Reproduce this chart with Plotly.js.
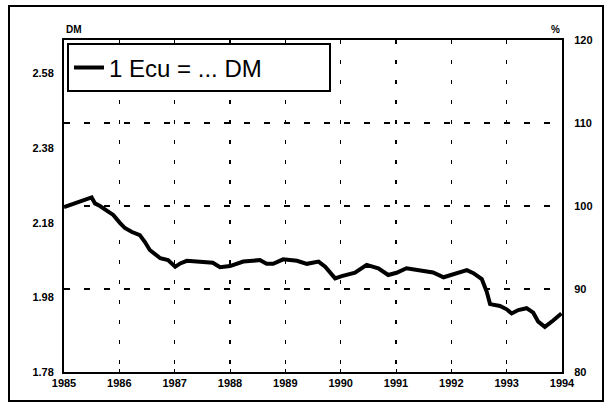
<!DOCTYPE html>
<html>
<head>
<meta charset="utf-8">
<script src="https://cdn.plot.ly/plotly-3.0.1.min.js"></script>
<style>
  html, body { margin: 0; padding: 0; background: #fff; }
  #wrap { position: relative; width: 607px; height: 407px; }
  #chart { position: absolute; left: 0; top: 0; width: 607px; height: 407px; }
  #frame { position: absolute; left: 8px; top: 5px; width: 592px; height: 393px;
           border: 2px solid #000; pointer-events: none; }
</style>
</head>
<body>
<div id="wrap">
  <div id="chart"></div>
  <div id="frame"></div>
</div>
<script>
// Years (decimal) and exchange rate: 1 ECU = ... DM
const years = [
  1985.00, 1985.20, 1985.34, 1985.50, 1985.56, 1985.65, 1985.80, 1985.89,
  1986.01, 1986.10, 1986.22, 1986.37, 1986.46, 1986.55, 1986.74, 1986.88,
  1987.01, 1987.10, 1987.22, 1987.46, 1987.69, 1987.82, 1988.00, 1988.24,
  1988.54, 1988.66, 1988.78, 1988.96, 1989.21, 1989.39, 1989.60, 1989.72,
  1989.90, 1990.02, 1990.26, 1990.47, 1990.68, 1990.86, 1991.01, 1991.19,
  1991.43, 1991.67, 1991.86, 1992.04, 1992.28, 1992.40, 1992.55, 1992.64,
  1992.70, 1992.88, 1993.00, 1993.09, 1993.21, 1993.36, 1993.48, 1993.57,
  1993.69, 1993.84, 1993.99
];
const ecuDM = [
  2.222, 2.233, 2.241, 2.248, 2.232, 2.225, 2.210, 2.201,
  2.180, 2.166, 2.156, 2.147, 2.129, 2.107, 2.085, 2.080,
  2.062, 2.071, 2.078, 2.076, 2.073, 2.061, 2.064, 2.076,
  2.080, 2.070, 2.070, 2.082, 2.078, 2.070, 2.076, 2.062,
  2.031, 2.037, 2.046, 2.067, 2.058, 2.040, 2.046, 2.058,
  2.052, 2.047, 2.034, 2.043, 2.053, 2.045, 2.029, 1.995,
  1.962, 1.957, 1.948, 1.937, 1.946, 1.951, 1.939, 1.915,
  1.901, 1.918, 1.937
];
const xTickVals = [1985, 1986, 1987, 1988, 1989, 1990, 1991, 1992, 1993, 1994];
const xTickText = ["1985", "1986", "1987", "1988", "1989", "1990", "1991", "1992", "1993", "1994"];
const dmTickVals = [1.78, 1.98, 2.18, 2.38, 2.58];
const dmTickText = ["1.78", "1.98", "2.18", "2.38", "2.58"];
const pctTickVals = [80, 90, 100, 110, 120];
const pctTickText = ["80", "90", "100", "110", "120"];
const seriesName = "1 Ecu = ... DM";

const FONT = "Arial, 'Liberation Sans', sans-serif";
const tickFont = { family: FONT, size: 11, color: "#000" };
const bold = arr => arr.map(t => "<b>" + t + "</b>");

const traces = [
  {
    x: years, y: ecuDM, type: "scatter", mode: "lines",
    name: seriesName, yaxis: "y",
    line: { color: "#000", width: 4 }
  },
  {
    x: [years[0]], y: [100], type: "scatter", mode: "lines",
    yaxis: "y2", showlegend: false, hoverinfo: "skip",
    line: { color: "rgba(0,0,0,0)", width: 0 }
  }
];

const layout = {
  width: 607, height: 407,
  margin: { l: 64, r: 45, t: 40, b: 35 },
  paper_bgcolor: "#fff", plot_bgcolor: "#fff",
  font: { family: FONT, color: "#000" },
  showlegend: true,
  legend: {
    orientation: "h",
    x: 0.006, y: 0.99, xanchor: "left", yanchor: "top",
    bgcolor: "#fff", bordercolor: "#000", borderwidth: 2,
    font: { family: FONT, size: 24, color: "#000" },
    entrywidth: 215, entrywidthmode: "pixels", itemwidth: 30
  },
  xaxis: {
    range: [1985, 1994], tickmode: "array",
    tickvals: xTickVals, ticktext: bold(xTickText),
    tickfont: tickFont,
    showgrid: true, gridcolor: "#000", gridwidth: 1.5, griddash: "4px,16px",
    showline: true, linecolor: "#000", linewidth: 2, mirror: true,
    ticks: "inside", ticklen: 3, tickcolor: "#000",
    zeroline: false
  },
  yaxis: {
    range: [1.78, 2.67], tickmode: "array",
    tickvals: dmTickVals, ticktext: bold(dmTickText),
    tickfont: tickFont,
    showgrid: false, zeroline: false,
    showline: true, linecolor: "#000", linewidth: 2, mirror: true,
    ticks: "", ticklabelstandoff: 6
  },
  yaxis2: {
    overlaying: "y", side: "right",
    range: [80, 120], tickmode: "array",
    tickvals: pctTickVals, ticktext: bold(pctTickText),
    tickfont: tickFont,
    showgrid: true, gridcolor: "#000", gridwidth: 1.5, griddash: "6px,14px",
    zeroline: false, showline: true, linecolor: "#000", linewidth: 2,
    ticks: "", ticklabelstandoff: 8
  },
  annotations: [
    { text: "<b>DM</b>", xref: "paper", yref: "paper", x: 0.0, y: 1.0,
      xanchor: "left", yanchor: "bottom", yshift: 3, showarrow: false,
      font: { family: FONT, size: 10, color: "#000" } },
    { text: "<b>%</b>", xref: "paper", yref: "paper", x: 1.0, y: 1.0,
      xanchor: "right", yanchor: "bottom", yshift: 3, showarrow: false,
      font: { family: FONT, size: 10, color: "#000" } }
  ]
};

Plotly.newPlot("chart", traces, layout, { displayModeBar: false, staticPlot: true });
</script>
</body>
</html>
